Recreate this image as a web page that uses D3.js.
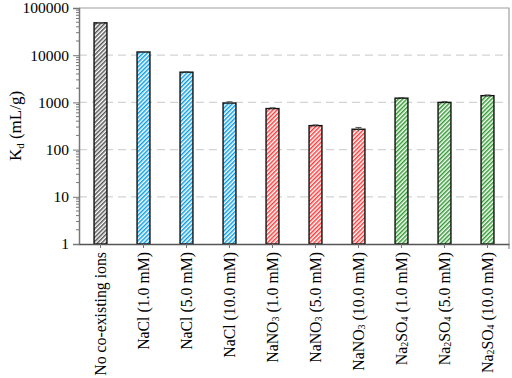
<!DOCTYPE html>
<html>
<head>
<meta charset="utf-8">
<script src="https://cdn.jsdelivr.net/npm/d3@7"></script>
<style>
  body { margin: 0; background: #fff; }
  svg { display: block; }
</style>
</head>
<body>
<svg id="chart" width="512" height="378"></svg>
<script>
const categories = ["No co-existing ions", "NaCl (1.0 mM)", "NaCl (5.0 mM)", "NaCl (10.0 mM)",
  "NaNO3 (1.0 mM)", "NaNO3 (5.0 mM)", "NaNO3 (10.0 mM)",
  "Na2SO4 (1.0 mM)", "Na2SO4 (5.0 mM)", "Na2SO4 (10.0 mM)"];
const kd = [48500, 11700, 4370, 970, 740, 322, 270, 1230, 1000, 1390];
const kdErr = [900, 250, 120, 60, 30, 12, 25, 40, 40, 50];
const groups = ["none", "cl", "cl", "cl", "no3", "no3", "no3", "so4", "so4", "so4"];
const yTicks = [1, 10, 100, 1000, 10000, 100000];

const width = 512, height = 378;
const margin = { top: 8, right: 3, bottom: 134, left: 79 };
const serif = "'Liberation Serif', 'Times New Roman', serif";

const svg = d3.select("#chart");

const x = d3.scaleBand()
  .domain(categories)
  .range([margin.left, width - margin.right])
  .paddingInner(0.7)
  .paddingOuter(0.35);

const y = d3.scaleLog()
  .domain([1, 100000])
  .range([height - margin.bottom, margin.top]);

// hatch patterns
const hatch = { none: "#555", cl: "#0a9ee6", no3: "#ff3b3b", so4: "#2f9a2f" };
const defs = svg.append("defs");
Object.entries(hatch).forEach(([k, c]) => {
  const p = defs.append("pattern")
    .attr("id", "h-" + k)
    .attr("patternUnits", "userSpaceOnUse")
    .attr("width", 3).attr("height", 3)
    .attr("patternTransform", "rotate(45)");
  p.append("rect").attr("width", 3).attr("height", 3).attr("fill", "#fff");
  p.append("rect").attr("width", 1.5).attr("height", 3).attr("fill", c);
});

// grid
svg.append("g")
  .selectAll("line")
  .data(yTicks.slice(1, -1))
  .join("line")
  .attr("x1", margin.left).attr("x2", width - margin.right)
  .attr("y1", d => y(d)).attr("y2", d => y(d))
  .attr("stroke", "#d4d4d4")
  .attr("stroke-width", 1.2)
  .attr("stroke-dasharray", "8,5");

// top and right frame
svg.append("path")
  .attr("d", `M${margin.left},${y(100000)}H${width - margin.right}V${y(1)}`)
  .attr("fill", "none")
  .attr("stroke", "#a0a0a0")
  .attr("stroke-width", 1.2);

// minor ticks
const minor = [];
for (let e = 0; e < 5; e++) for (let m = 2; m < 10; m++) minor.push(m * Math.pow(10, e));
svg.append("g")
  .selectAll("line")
  .data(minor)
  .join("line")
  .attr("x1", margin.left - 3).attr("x2", margin.left)
  .attr("y1", d => y(d)).attr("y2", d => y(d))
  .attr("stroke", "#777");

// y axis
const yAxis = svg.append("g")
  .attr("transform", `translate(${margin.left},0)`)
  .call(d3.axisLeft(y).tickValues(yTicks).tickFormat(d3.format("d")).tickSize(6).tickPadding(4));
yAxis.select(".domain").attr("stroke", "#777").attr("stroke-width", 1.5);
yAxis.selectAll(".tick line").attr("stroke", "#777");
yAxis.selectAll("text")
  .attr("fill", "#000")
  .style("font", `15.5px ${serif}`);

// bars
svg.append("g")
  .selectAll("rect")
  .data(categories)
  .join("rect")
  .attr("x", d => x(d))
  .attr("width", x.bandwidth())
  .attr("y", (d, i) => y(kd[i]))
  .attr("height", (d, i) => y(1) - y(kd[i]))
  .attr("fill", (d, i) => `url(#h-${groups[i]})`)
  .attr("stroke", "#111")
  .attr("stroke-width", 1.4);

// error bars
const eb = svg.append("g").attr("stroke", "#555").attr("stroke-width", 1);
categories.forEach((c, i) => {
  const cx = x(c) + x.bandwidth() / 2;
  eb.append("line").attr("x1", cx).attr("x2", cx)
    .attr("y1", y(kd[i] - kdErr[i])).attr("y2", y(kd[i] + kdErr[i]));
  eb.append("line").attr("x1", cx - 3).attr("x2", cx + 3)
    .attr("y1", y(kd[i] + kdErr[i])).attr("y2", y(kd[i] + kdErr[i]));
});

// x axis
const xAxis = svg.append("g")
  .attr("transform", `translate(0,${y(1)})`)
  .call(d3.axisBottom(x).tickSize(4).tickSizeOuter(0).tickFormat(""));
xAxis.select(".domain").attr("stroke", "#555").attr("stroke-width", 1.5);
xAxis.selectAll(".tick line").attr("stroke", "#777");
svg.append("line")
  .attr("x1", width - margin.right).attr("x2", width - margin.right)
  .attr("y1", y(1)).attr("y2", y(1) + 5)
  .attr("stroke", "#777");

// x labels, chemical digits as subscripts
const lab = svg.append("g")
  .selectAll("text")
  .data(categories)
  .join("text")
  .attr("transform", d => `translate(${x(d) + x.bandwidth() / 2 + 5.5},${y(1) + 8}) rotate(-90)`)
  .attr("text-anchor", "end")
  .attr("fill", "#000")
  .style("font", `15.8px ${serif}`);
lab.each(function (d) {
  const t = d3.select(this);
  const m = d.match(/^(Na)(2?)(NO|SO)(3|4)(.*)$/);
  if (!m) { t.text(d); return; }
  t.append("tspan").text(m[1]);
  if (m[2]) t.append("tspan").attr("font-size", 10).attr("dy", 1).text(m[2]);
  t.append("tspan").attr("dy", m[2] ? -1 : 0).text(m[3]);
  t.append("tspan").attr("font-size", 10).attr("dy", 1).text(m[4]);
  t.append("tspan").attr("dy", -1).text(m[5]);
});

// y label
const yl = svg.append("text")
  .attr("transform", `translate(21,${(y(1) + y(100000)) / 2}) rotate(-90)`)
  .attr("text-anchor", "middle")
  .attr("fill", "#000")
  .style("font", `17px ${serif}`);
yl.append("tspan").text("K");
yl.append("tspan").attr("font-size", 11).attr("dy", 3).text("d");
yl.append("tspan").attr("dy", -3).text(" (mL/g)");
</script>
</body>
</html>
